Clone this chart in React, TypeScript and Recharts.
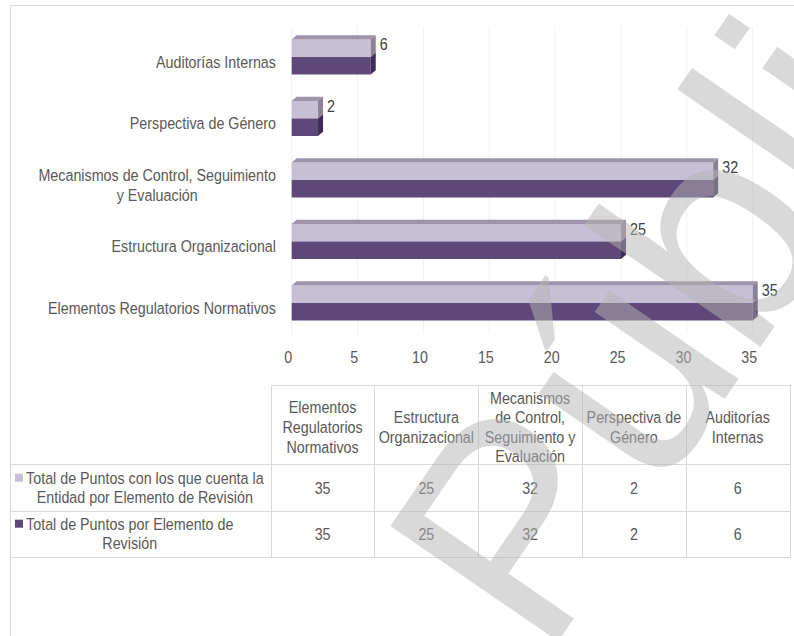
import React from 'react';
import { BarChart, Bar, XAxis, YAxis, CartesianGrid, LabelList } from 'recharts';

const categories = [
  'Elementos Regulatorios Normativos',
  'Estructura Organizacional',
  'Mecanismos de Control, Seguimiento y Evaluación',
  'Perspectiva de Género',
  'Auditorías Internas',
];
const axisLabelLines = [
  ['Elementos Regulatorios Normativos'],
  ['Estructura Organizacional'],
  ['Mecanismos de Control, Seguimiento', 'y Evaluación'],
  ['Perspectiva de Género'],
  ['Auditorías Internas'],
];
const tableHeaderLines = [
  ['Elementos', 'Regulatorios', 'Normativos'],
  ['Estructura', 'Organizacional'],
  ['Mecanismos', 'de Control,', 'Seguimiento y', 'Evaluación'],
  ['Perspectiva de', 'Género'],
  ['Auditorías', 'Internas'],
];
const seriesNames = [
  'Total de Puntos con los que cuenta la Entidad por Elemento de Revisión',
  'Total de Puntos por Elemento de Revisión',
];
const seriesNameLines = [
  ['Total de Puntos con los que cuenta la', 'Entidad por Elemento de Revisión'],
  ['Total de Puntos por Elemento de', 'Revisión'],
];
const puntosEntidad = [35, 25, 32, 2, 6];
const puntosTotales = [35, 25, 32, 2, 6];
const xTicks = [0, 5, 10, 15, 20, 25, 30, 35];
const watermarkText = 'Público';

const data = categories.map((name, i) => ({
  name,
  entidad: puntosEntidad[i],
  total: puntosTotales[i],
}));

const FS = 14.3;
const SY = 1.2;
const FONT = "'Liberation Sans', Arial, sans-serif";
const TEXT = '#595959';
const LIGHT = { front: '#c7bfd6', top: '#9d93aa', side: '#8b8198' };
const DARK = { front: '#5e4878', top: '#4a3862', side: '#3d2c55' };
const DX = 5;
const DY = 4.3;

let ctx: CanvasRenderingContext2D | null = null;
function textWidth(s: string): number {
  if (!ctx) ctx = document.createElement('canvas').getContext('2d');
  if (!ctx) return s.length * FS * 0.5;
  ctx.font = `${FS}px 'Liberation Sans'`;
  return ctx.measureText(s).width;
}

function SText({ x, y, children, anchor = 'middle', fill = TEXT }: any) {
  return (
    <text
      transform={`translate(${x},${y}) scale(1,${SY})`}
      textAnchor={anchor}
      dominantBaseline="central"
      fontFamily={FONT}
      fontSize={FS}
      fill={fill}
    >
      {children}
    </text>
  );
}

function makeShape(c: { front: string; top: string; side: string }, drawTop: boolean) {
  return (p: any) => {
    const { x, y, width, height } = p;
    if (width == null || height == null) return <g />;
    const r = x + width;
    return (
      <g>
        <rect x={x} y={y} width={width} height={height} fill={c.front} />
        {drawTop && (
          <polygon
            points={`${x},${y} ${x + DX},${y - DY} ${r + DX},${y - DY} ${r},${y}`}
            fill={c.top}
          />
        )}
        <polygon
          points={`${r},${y} ${r + DX},${y - DY} ${r + DX},${y + height - DY} ${r},${y + height}`}
          fill={c.side}
        />
      </g>
    );
  };
}

const YTick = (props: any) => {
  const { x, y, payload } = props;
  const i = categories.indexOf(payload.value);
  const lines = axisLabelLines[i] || [String(payload.value)];
  const w = Math.max(...lines.map(textWidth));
  const cx = x - 15.7 - w / 2;
  return (
    <g>
      {lines.map((l, k) => (
        <SText key={k} x={cx} y={y + 4.5 + (k - (lines.length - 1) / 2) * 19.7}>
          {l}
        </SText>
      ))}
    </g>
  );
};

const XTick = (props: any) => {
  const { x, y, payload } = props;
  return (
    <SText x={x - 3.4} y={y + 23.5}>
      {payload.value}
    </SText>
  );
};

const ValueLabel = (p: any) => {
  const { x, y, width, height, value } = p;
  return (
    <SText x={Number(x) + Number(width) + 9} y={Number(y) + Number(height) / 2 - 4} anchor="start" fill="#404040">
      {value}
    </SText>
  );
};

const px = (v: number) => Math.round(v) + 0.5;

function Table() {
  const col0 = 270.7;
  const colW = 103.76;
  const yTop = 385;
  const yHdr = 464.3;
  const yR1 = 511;
  const yR2 = 556.7;
  const right = col0 + colW * 5;
  const stroke = '#d9d9d9';
  const rowCenters = [487.5, 533.5];
  const rowValues = [puntosEntidad, puntosTotales];
  const keyColors = [LIGHT.front, DARK.front];
  return (
    <svg width={794} height={636} style={{ position: 'absolute', left: 0, top: 0 }}>
      <line x1={px(10)} y1={px(5)} x2={794} y2={px(5)} stroke={stroke} />
      <line x1={px(10)} y1={px(5)} x2={px(10)} y2={636} stroke={stroke} />
      <line x1={px(col0)} y1={px(yTop)} x2={px(right)} y2={px(yTop)} stroke={stroke} />
      {[yHdr, yR1, yR2].map((yy, k) => (
        <line key={k} x1={px(10)} y1={px(yy)} x2={px(right)} y2={px(yy)} stroke={stroke} />
      ))}
      {[0, 1, 2, 3, 4, 5].map((k) => (
        <line key={k} x1={px(col0 + k * colW)} y1={px(yTop)} x2={px(col0 + k * colW)} y2={px(yR2)} stroke={stroke} />
      ))}
      {tableHeaderLines.map((lines, c) => (
        <g key={c}>
          {lines.map((l, k) => (
            <SText key={k} x={col0 + colW * (c + 0.5)} y={427 + (k - (lines.length - 1) / 2) * 19.6}>
              {l}
            </SText>
          ))}
        </g>
      ))}
      {seriesNameLines.map((lines, r) => {
        const w = Math.max(...lines.map(textWidth));
        const cx = 26 + w / 2;
        const firstY = rowCenters[r] - 9.8;
        return (
          <g key={r}>
            <rect x={15} y={firstY - 4} width={8} height={8} fill={keyColors[r]} />
            {lines.map((l, k) => (
              <SText key={k} x={cx} y={firstY + k * 19.8}>
                {l}
              </SText>
            ))}
            {rowValues[r].map((v, c) => (
              <SText key={'v' + c} x={col0 + colW * (c + 0.5)} y={rowCenters[r] + 0.8}>
                {v}
              </SText>
            ))}
          </g>
        );
      })}
    </svg>
  );
}

export default function App() {
  return (
    <div style={{ position: 'absolute', left: 0, top: 0, width: 794, height: 636, background: '#fff', overflow: 'hidden' }}>
      <Table />
      <div style={{ position: 'absolute', left: 0, top: 0 }}>
        <BarChart
          width={794}
          height={380}
          data={data}
          layout="vertical"
          margin={{ top: 26.5, right: 41.3, bottom: 16, left: 0 }}
          barSize={17.5}
          barGap={0}
        >
          <CartesianGrid horizontal={false} stroke="#f1f1f1" />
          <XAxis
            type="number"
            domain={[0, 35]}
            ticks={xTicks}
            axisLine={false}
            tickLine={false}
            tickSize={0}
            tickMargin={0}
            height={30}
            tick={<XTick />}
            interval={0}
          />
          <YAxis
            type="category"
            dataKey="name"
            reversed
            width={291.7}
            axisLine={false}
            tickLine={false}
            tickSize={0}
            tickMargin={0}
            tick={<YTick />}
            interval={0}
          />
          <Bar dataKey="entidad" name={seriesNames[0]} isAnimationActive={false} shape={makeShape(LIGHT, true)}>
            <LabelList dataKey="entidad" content={<ValueLabel />} />
          </Bar>
          <Bar dataKey="total" name={seriesNames[1]} isAnimationActive={false} shape={makeShape(DARK, false)} />
        </BarChart>
      </div>
      <svg width={794} height={636} style={{ position: 'absolute', left: 0, top: 0, pointerEvents: 'none' }}>
        <text
          transform="translate(544.4,661.3) rotate(-55.5)"
          fontFamily={FONT}
          fontSize={296}
          fill="#b4b4b4"
          fillOpacity={0.5}
        >
          {watermarkText}
        </text>
      </svg>
    </div>
  );
}
